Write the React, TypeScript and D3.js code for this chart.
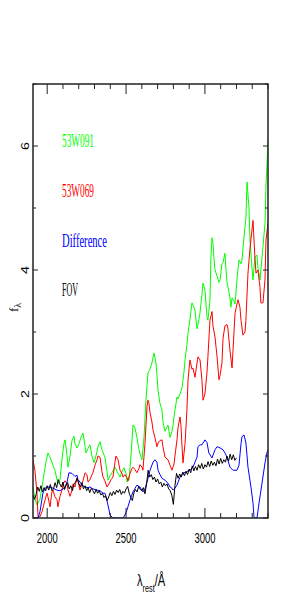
import * as d3 from "d3";

// 53W091 (green), [lambda, f]
const s53W091: [number, number][] = [
  [1910, 0.5], [1923, 0.3], [1935, 0.21], [1954, 0.3], [1973, 0.6], [1992, 0.9], [2005, 1.05],
  [2018, 0.98], [2037, 0.85], [2049, 0.77], [2068, 0.55], [2081, 0.62], [2094, 0.95], [2106, 1.2],
  [2113, 1.26], [2126, 1.0], [2132, 0.82], [2145, 1.0], [2157, 1.25], [2170, 1.32], [2176, 1.2],
  [2189, 1.13], [2202, 1.2], [2214, 1.3], [2227, 1.37], [2240, 1.15], [2246, 1.05], [2259, 1.12],
  [2271, 1.18], [2284, 1.0], [2297, 0.89], [2309, 1.0], [2322, 1.15], [2335, 1.23], [2347, 1.1],
  [2366, 0.98], [2379, 0.75], [2386, 0.61], [2398, 0.68], [2411, 0.73], [2424, 0.8], [2430, 0.82],
  [2449, 0.72], [2462, 0.66], [2474, 0.75], [2487, 0.81], [2500, 0.72], [2506, 0.58], [2519, 0.62],
  [2531, 1.0], [2544, 1.5], [2557, 1.45], [2569, 1.3], [2582, 1.1], [2595, 0.98], [2601, 0.94],
  [2614, 1.3], [2626, 1.9], [2639, 2.34], [2652, 2.4], [2664, 2.5], [2677, 2.66], [2690, 2.5],
  [2696, 2.3], [2703, 2.05], [2715, 1.85], [2728, 1.74], [2734, 1.55], [2747, 1.4], [2760, 1.47],
  [2766, 1.5], [2779, 1.3], [2791, 1.4], [2798, 1.5], [2810, 1.74], [2823, 1.95], [2829, 1.92],
  [2842, 2.0], [2855, 2.1], [2867, 2.35], [2874, 2.55], [2886, 2.8], [2893, 2.98], [2905, 3.2],
  [2918, 3.47], [2931, 3.4], [2937, 3.35], [2950, 3.05], [2962, 3.2], [2969, 3.31], [2981, 3.6],
  [2988, 3.79], [3000, 3.68], [3013, 3.25], [3019, 3.19], [3032, 3.5], [3038, 4.2], [3045, 4.52],
  [3051, 4.44], [3057, 4.2], [3064, 4.0], [3077, 3.9], [3089, 3.8], [3096, 3.84], [3108, 4.1],
  [3115, 4.12], [3127, 4.27], [3134, 4.0], [3140, 3.8], [3146, 3.73], [3159, 3.55], [3165, 3.4],
  [3172, 3.55], [3184, 3.5], [3191, 3.45], [3203, 3.84], [3216, 4.16], [3229, 4.1], [3235, 4.16],
  [3248, 4.53], [3260, 4.85], [3267, 5.42], [3279, 5.02], [3286, 4.48], [3298, 4.05], [3305, 3.84],
  [3317, 4.21], [3330, 4.24], [3336, 4.05], [3349, 3.84], [3355, 4.0], [3368, 4.37], [3381, 4.76],
  [3387, 5.34], [3400, 6.1],
];

// 53W069 (red)
const s53W069: [number, number][] = [
  [1910, 0.94], [1923, 0.75], [1935, 0.4], [1942, 0.02], [1954, 0.02], [1967, 0.1], [1986, 0.29],
  [1999, 0.4], [2005, 0.34], [2018, 0.18], [2030, 0.42], [2037, 0.45], [2049, 0.34], [2062, 0.3],
  [2068, 0.18], [2081, 0.35], [2094, 0.45], [2100, 0.55], [2113, 0.6], [2126, 0.55], [2132, 0.45],
  [2145, 0.35], [2157, 0.45], [2164, 0.55], [2176, 0.5], [2189, 0.65], [2195, 0.6], [2208, 0.45],
  [2221, 0.55], [2227, 0.6], [2240, 0.73], [2252, 0.7], [2259, 0.58], [2271, 0.62], [2284, 0.7],
  [2290, 0.73], [2303, 0.85], [2316, 0.94], [2322, 1.0], [2335, 0.98], [2347, 0.75], [2354, 0.66],
  [2366, 0.6], [2379, 0.5], [2392, 0.55], [2405, 0.62], [2417, 0.66], [2430, 0.9], [2436, 1.0],
  [2449, 0.94], [2462, 0.77], [2474, 0.72], [2481, 0.66], [2493, 0.7], [2506, 0.65], [2512, 0.6],
  [2525, 0.72], [2538, 0.8], [2544, 0.82], [2557, 0.78], [2569, 0.73], [2582, 0.8], [2588, 0.86],
  [2601, 0.82], [2607, 0.77], [2620, 1.2], [2633, 1.8], [2639, 1.9], [2645, 1.85], [2652, 1.7],
  [2664, 1.55], [2671, 1.42], [2683, 1.3], [2696, 1.15], [2703, 1.21], [2715, 1.25], [2728, 1.26],
  [2734, 1.15], [2747, 0.98], [2766, 0.94], [2779, 0.85], [2791, 0.77], [2804, 0.87], [2810, 1.0],
  [2823, 1.26], [2829, 1.45], [2842, 1.63], [2848, 1.5], [2855, 1.15], [2861, 0.89], [2874, 1.2],
  [2886, 1.74], [2893, 2.23], [2905, 2.55], [2918, 2.4], [2924, 2.42], [2937, 2.27], [2950, 2.5],
  [2956, 2.6], [2969, 2.55], [2981, 2.23], [2988, 1.9], [3000, 2.0], [3013, 2.34], [3019, 2.6],
  [3032, 3.19], [3045, 3.33], [3051, 3.1], [3064, 2.92], [3077, 2.6], [3089, 2.23], [3096, 2.3],
  [3108, 2.5], [3115, 2.9], [3127, 3.1], [3140, 3.12], [3146, 3.05], [3159, 2.7], [3172, 2.42],
  [3178, 2.7], [3191, 3.3], [3203, 3.45], [3210, 3.52], [3222, 3.4], [3229, 3.19], [3241, 2.95],
  [3254, 3.0], [3260, 3.19], [3273, 3.95], [3286, 4.35], [3292, 4.5], [3305, 4.8], [3317, 4.2],
  [3324, 3.95], [3336, 4.0], [3349, 3.73], [3355, 3.47], [3368, 3.47], [3381, 3.84], [3387, 4.48],
  [3400, 4.76],
];

// Difference (blue)
const sDiff: [number, number][] = [
  [1910, 0], [1942, 0], [1954, 0.1], [1973, 0.4], [1986, 0.48], [1999, 0.5], [2018, 0.5],
  [2037, 0.48], [2062, 0.45], [2081, 0.44], [2100, 0.47], [2113, 0.5], [2126, 0.58], [2138, 0.73],
  [2157, 0.72], [2176, 0.67], [2189, 0.69], [2195, 0.62], [2208, 0.58], [2221, 0.53], [2240, 0.5],
  [2259, 0.49], [2271, 0.5], [2290, 0.47], [2316, 0.45], [2335, 0.44], [2354, 0.4], [2366, 0.4],
  [2379, 0.28], [2392, 0.13], [2398, 0.05], [2417, 0], [2481, 0], [2493, 0.05], [2506, 0.13],
  [2525, 0.29], [2544, 0.42], [2557, 0.48], [2569, 0.53], [2588, 0.5], [2607, 0.42], [2620, 0.47],
  [2633, 0.58], [2652, 0.77], [2671, 0.9], [2683, 0.94], [2696, 0.9], [2703, 0.77], [2715, 0.7],
  [2728, 0.64], [2747, 0.61], [2766, 0.56], [2779, 0.5], [2791, 0.48], [2798, 0.45], [2810, 0.48],
  [2823, 0.53], [2842, 0.66], [2861, 0.72], [2886, 0.75], [2905, 0.77], [2924, 0.82], [2937, 0.9],
  [2950, 0.98], [2956, 1.15], [2969, 1.18], [2981, 1.18], [3000, 1.26], [3013, 1.22], [3025, 1.05],
  [3045, 0.97], [3064, 1.1], [3077, 1.15], [3096, 1.13], [3115, 1.1], [3127, 1.05], [3140, 0.98],
  [3159, 0.82], [3178, 0.77], [3203, 0.77], [3216, 0.85], [3229, 1.2], [3235, 1.31], [3248, 1.34],
  [3260, 1.21], [3273, 0.82], [3286, 0.6], [3292, 0.5], [3305, 0.24], [3311, 0.02], [3317, 0],
  [3330, 0], [3343, 0.24], [3362, 0.56], [3381, 0.89], [3394, 1.06], [3400, 1.1],
];

// FOV (black), sampled every 10 A from 1910 A
const fovStart = 1910;
const fovStep = 10;
const fovFlux = [
  0.37, 0.3, 0.38, 0.5, 0.43, 0.52, 0.42, 0.49, 0.44, 0.52, 0.45, 0.54, 0.44, 0.47, 0.57, 0.49,
  0.62, 0.55, 0.5, 0.58, 0.46, 0.53, 0.57, 0.47, 0.52, 0.44, 0.55, 0.58, 0.64, 0.56, 0.5, 0.57,
  0.47, 0.52, 0.44, 0.49, 0.41, 0.48, 0.44, 0.39, 0.46, 0.4, 0.44, 0.37, 0.4, 0.33, 0.36, 0.28,
  0.34, 0.41, 0.36, 0.43, 0.38, 0.45, 0.41, 0.46, 0.38, 0.43, 0.4, 0.47, 0.51, 0.4, 0.33, 0.28,
  0.41, 0.46, 0.42, 0.51, 0.46, 0.44, 0.49, 0.39, 0.55, 0.77, 0.66, 0.7, 0.62, 0.66, 0.58, 0.63,
  0.55, 0.58, 0.5, 0.56, 0.52, 0.55, 0.47, 0.44, 0.37, 0.22, 0.52, 0.72, 0.64, 0.71, 0.66, 0.74,
  0.68, 0.75, 0.7, 0.79, 0.73, 0.84, 0.76, 0.83, 0.77, 0.86, 0.8, 0.88, 0.79, 0.86, 0.82, 0.91,
  0.83, 0.92, 0.85, 0.9, 0.84, 0.95, 0.87, 0.96, 0.88, 0.94, 0.9, 1.0, 0.92, 1.03, 0.94, 1.02,
  0.93, 0.97,
];

const xMajor = [2000, 2500, 3000];
const yMajor = [0, 2, 4, 6];

const legend = [
  { label: "53W091", color: "#00ff00", base: 147, len: 32 },
  { label: "53W069", color: "#ff0000", base: 197, len: 32 },
  { label: "Difference", color: "#0000ff", base: 247, len: 45 },
  { label: "FOV", color: "#000000", base: 296, len: 16 },
];

const W = 302;
const H = 603;
const left = 33, right = 268, top = 84, bottom = 518;

export default function App() {
  const x = d3.scaleLinear().domain([1910, 3400]).range([left, right]);
  const y = d3.scaleLinear().domain([0, 7]).range([bottom, top]);

  const line = d3
    .line<[number, number]>()
    .x((d) => x(d[0]))
    .y((d) => y(d[1]));

  const fov: [number, number][] = fovFlux.map((f, i) => [fovStart + i * fovStep, f]);

  const series = [
    { data: s53W091, color: "#00ff00" },
    { data: s53W069, color: "#ff0000" },
    { data: sDiff, color: "#0000ff" },
    { data: fov, color: "#000000" },
  ];

  const xMinor = d3.range(2000, 3401, 100);
  const yMinor = d3.range(0, 8, 1);
  const font = "'Liberation Sans', 'DejaVu Sans', sans-serif";
  const serif = "'Liberation Serif', 'DejaVu Serif', serif";

  return (
    <svg
      width={W}
      height={H}
      style={{ position: "absolute", left: 0, top: 0, background: "#fff" }}
    >
      <defs>
        <clipPath id="plot">
          <rect x={left} y={top} width={right - left} height={bottom - top} />
        </clipPath>
      </defs>

      <g clipPath="url(#plot)">
        {series.map((s, i) => (
          <path key={i} d={line(s.data) ?? ""} fill="none" stroke={s.color} strokeWidth={1} />
        ))}
      </g>

      {/* ticks */}
      <g stroke="#222" strokeWidth={1}>
        {xMinor.map((v) => {
          const len = xMajor.includes(v) ? 10 : 5;
          return (
            <g key={v}>
              <line x1={x(v)} x2={x(v)} y1={bottom} y2={bottom - len} />
              <line x1={x(v)} x2={x(v)} y1={top} y2={top + len} />
            </g>
          );
        })}
        {yMinor.map((v) => {
          const len = yMajor.includes(v) ? 5 : 3;
          return (
            <g key={v}>
              <line x1={left} x2={left + len} y1={y(v)} y2={y(v)} />
              <line x1={right} x2={right - len} y1={y(v)} y2={y(v)} />
            </g>
          );
        })}
      </g>

      <rect
        x={left}
        y={top}
        width={right - left}
        height={bottom - top}
        fill="none"
        stroke="#222"
        strokeWidth={1.5}
      />

      {/* x tick labels */}
      {xMajor.map((v) => (
        <text
          key={v}
          x={x(v) - 10.5}
          y={543}
          fontFamily={font}
          fontSize={15}
          textLength={21}
          lengthAdjust="spacingAndGlyphs"
        >
          {v}
        </text>
      ))}

      {/* y tick labels, rotated */}
      {yMajor.map((v) => (
        <text
          key={v}
          transform={`translate(28.5,${y(v) + 4}) rotate(-90)`}
          fontFamily={font}
          fontSize={10}
          textLength={8}
          lengthAdjust="spacingAndGlyphs"
        >
          {v}
        </text>
      ))}

      {/* y axis label */}
      <text transform="translate(18,312) rotate(-90)" fontFamily={serif} fontSize={13}>
        f
        <tspan fontSize={10} dy={3}>
          λ
        </tspan>
      </text>

      {/* x axis label, squeezed horizontally */}
      <g transform="translate(137,586) scale(0.66,1)">
        <text x={0} y={0} fontFamily={font} fontSize={17}>
          λ
          <tspan fontSize={11} dy={6}>
            rest
          </tspan>
          <tspan dy={-6}>/Å</tspan>
        </text>
      </g>

      {/* legend */}
      {legend.map((l) => (
        <text
          key={l.label}
          x={62}
          y={l.base}
          fill={l.color}
          fontFamily={serif}
          fontSize={18}
          textLength={l.len}
          lengthAdjust="spacingAndGlyphs"
        >
          {l.label}
        </text>
      ))}
    </svg>
  );
}
